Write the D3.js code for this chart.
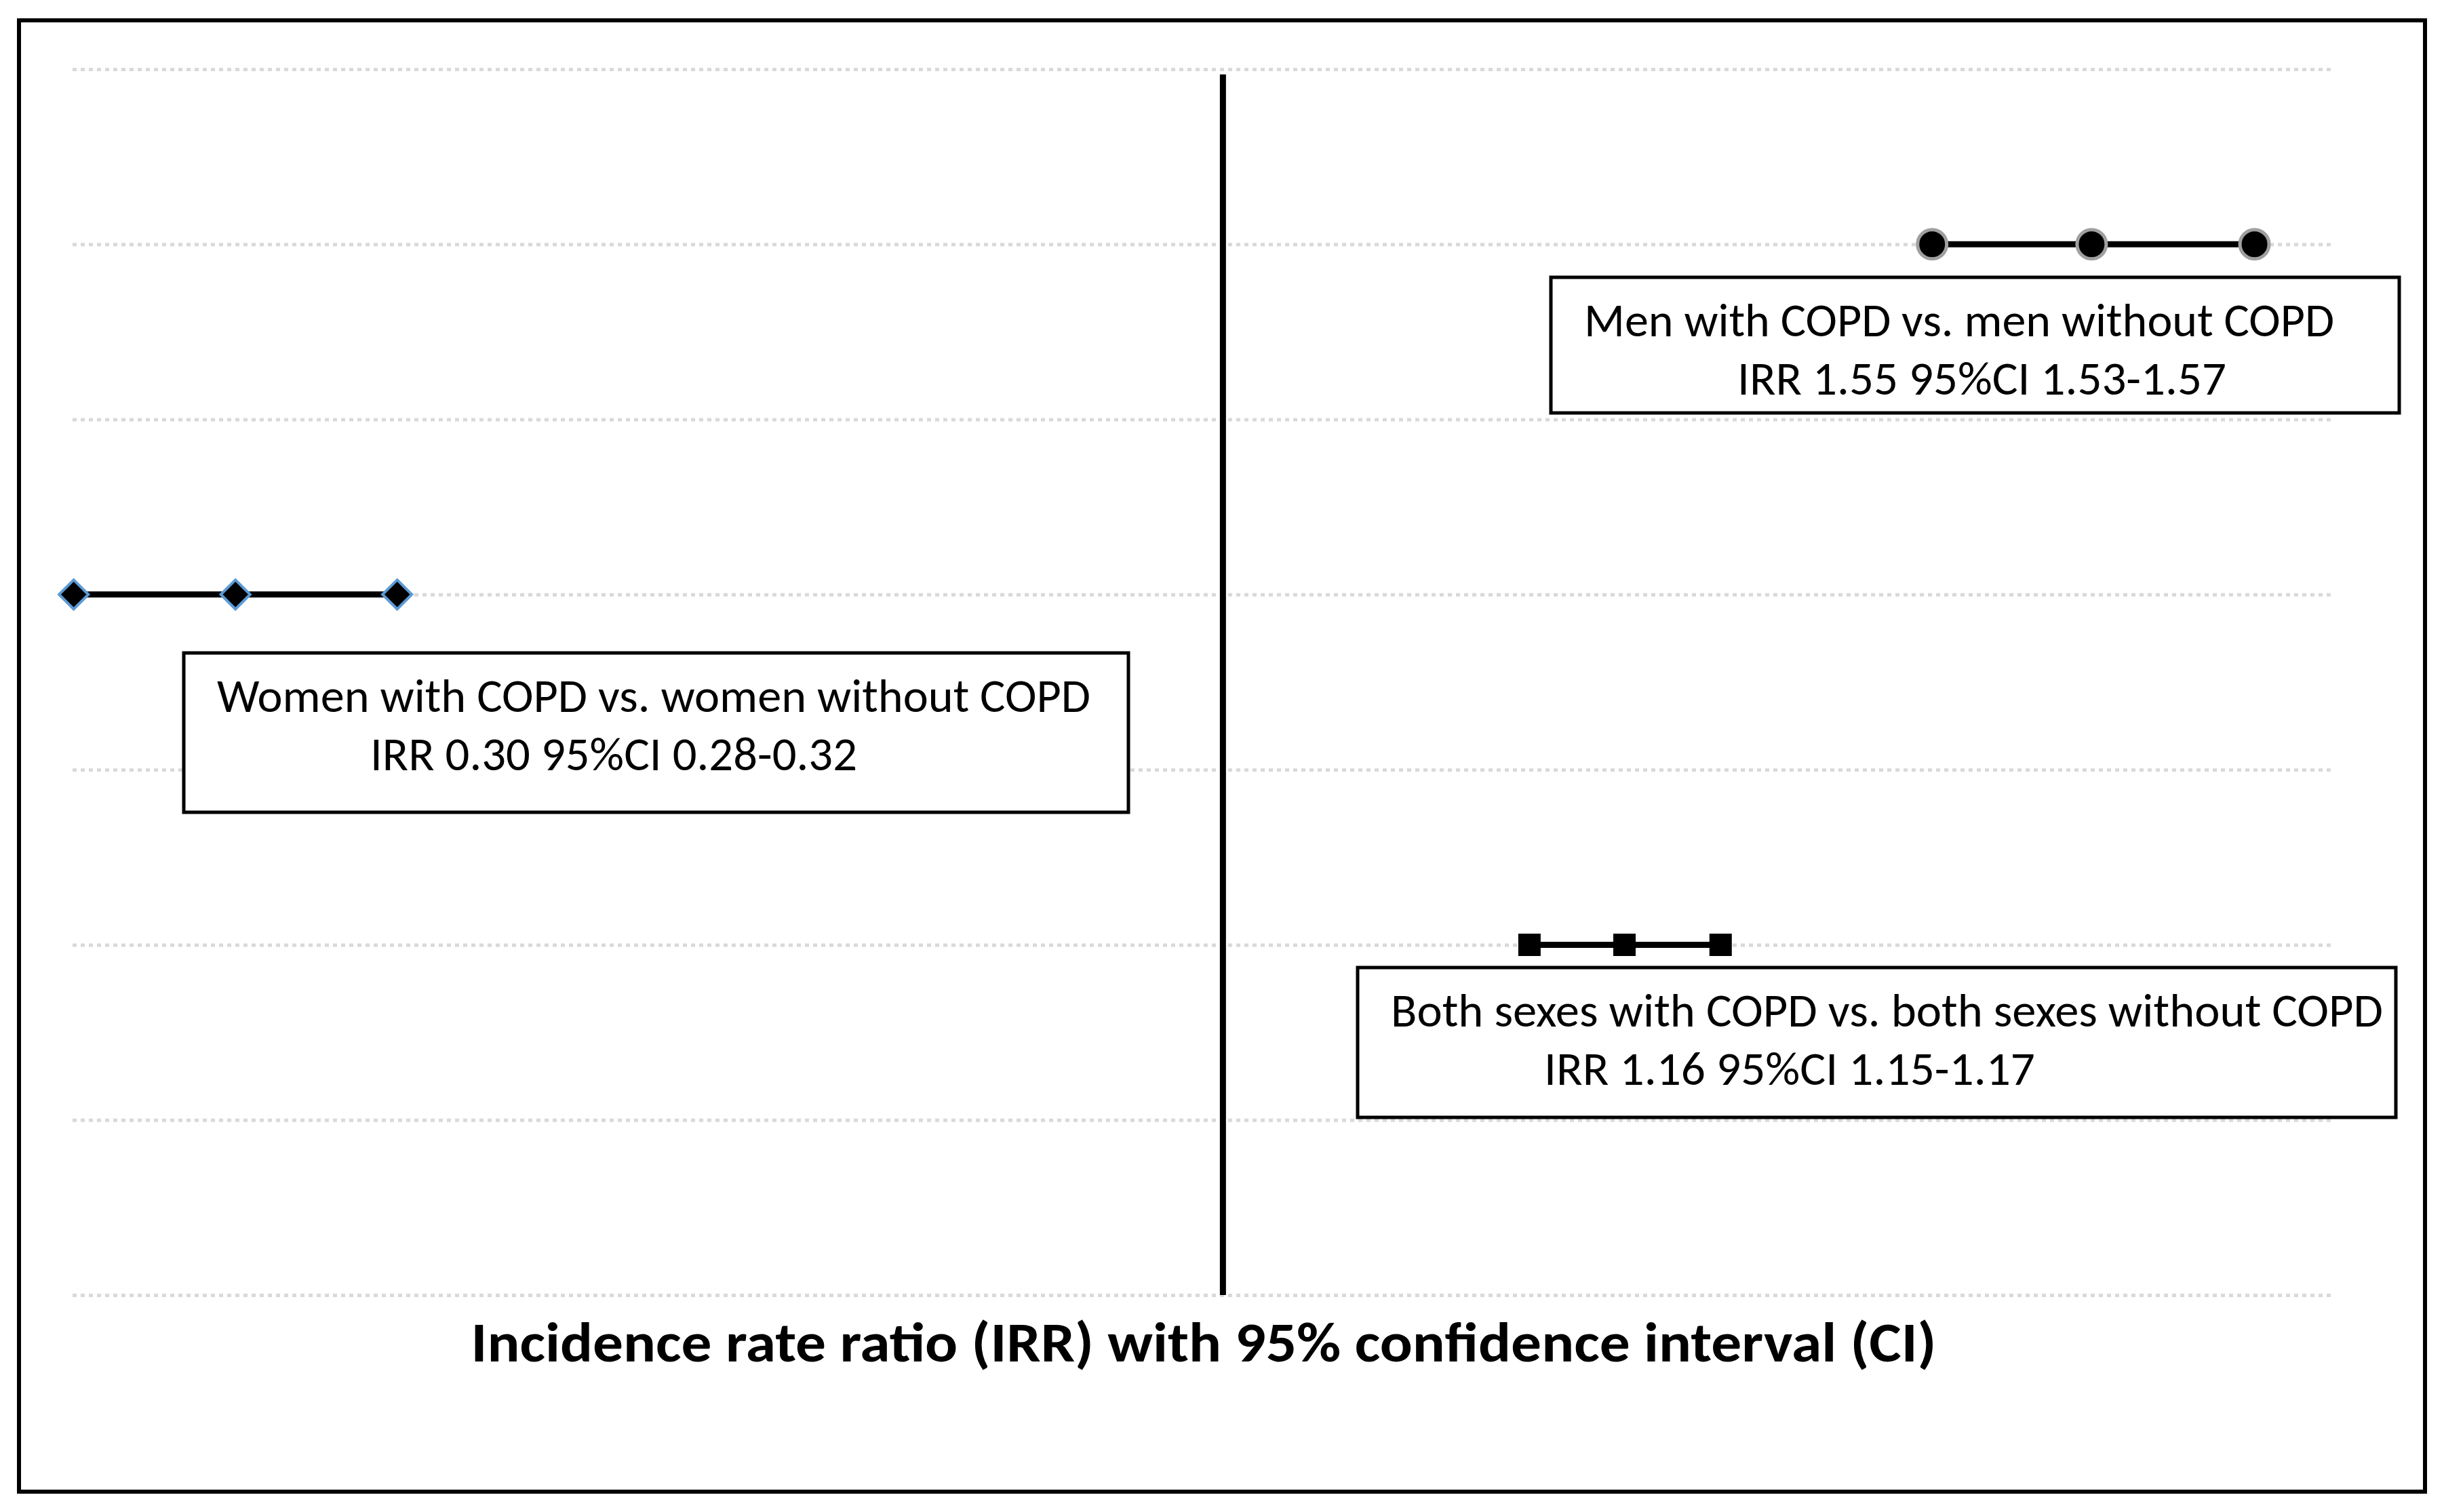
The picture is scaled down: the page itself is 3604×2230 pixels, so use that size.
<!DOCTYPE html>
<html>
<head>
<meta charset="utf-8">
<script src="https://cdn.jsdelivr.net/npm/d3@7"></script>
<style>
  body { margin: 0; background: #fff; }
  svg { display: block; }
  text { font-family: Carlito, Calibri, Lato, sans-serif; fill: #000; }
</style>
</head>
<body>
<script>
// groups, in the order they appear top to bottom
var groups = ["Men with COPD vs. men without COPD",
              "Women with COPD vs. women without COPD",
              "Both sexes with COPD vs. both sexes without COPD"];
var irr    = [1.55, 0.30, 1.16];
var ciLow  = [1.53, 0.28, 1.15];
var ciHigh = [1.57, 0.32, 1.17];

// where each row sits on the (unlabelled) chart axes
var rowY    = [6, 4, 2];
var posLow  = [1.644, 0.001, 1.288];
var posMid  = [1.785, 0.144, 1.372];
var posHigh = [1.929, 0.287, 1.457];
var refLineX = 1.017;
var yTicks = [0, 1, 2, 3, 4, 5, 6, 7];
var title = "Incidence rate ratio (IRR) with 95% confidence interval (CI)";

var width = 3604, height = 2230;

var x = d3.scaleLinear().domain([0, 2]).range([107, 3443]);
var y = d3.scaleLinear().domain([0, 7]).range([1910, 102]);

var svg = d3.select('body').append('svg')
            .attr('width', width)
            .attr('height', height);

// outer frame
svg.append('rect')
   .attr('x', 28).attr('y', 30)
   .attr('width', 3548).attr('height', 2170)
   .attr('fill', '#fff').attr('stroke', '#000').attr('stroke-width', 6);

// dotted horizontal gridlines
var yAxis = d3.axisLeft(y).tickValues(yTicks).tickSize(-(x.range()[1] - x.range()[0])).tickFormat('');
var grid = svg.append('g').attr('transform', 'translate(' + x.range()[0] + ',0)').call(yAxis);
grid.select('.domain').remove();
grid.selectAll('.tick line')
    .attr('stroke', '#d9d9d9')
    .attr('stroke-width', 5)
    .attr('stroke-dasharray', '6,6');

// reference line
svg.append('line')
   .attr('x1', x(refLineX)).attr('x2', x(refLineX))
   .attr('y1', y(0)).attr('y2', y(6.97))
   .attr('stroke', '#000').attr('stroke-width', 9);

var rows = groups.map(function(g, i) {
  return { name: g, irr: irr[i], lo: ciLow[i], hi: ciHigh[i],
           y: rowY[i], p: [posLow[i], posMid[i], posHigh[i]] };
});

// CI lines
svg.selectAll('.ci').data(rows).enter().append('line')
   .attr('class', 'ci')
   .attr('x1', function(d) { return x(d.p[0]); })
   .attr('x2', function(d) { return x(d.p[2]); })
   .attr('y1', function(d) { return y(d.y); })
   .attr('y2', function(d) { return y(d.y); })
   .attr('stroke', '#000').attr('stroke-width', 9);

// markers: circle for men, diamond (rotated square) for women, square for both
var markers = [
  { shape: d3.symbolCircle, size: Math.PI * 21.5 * 21.5, rot: 0,  stroke: '#a0a0a0', sw: 5 },
  { shape: d3.symbolSquare, size: 30.5 * 30.5,           rot: 45, stroke: '#5b9bd5', sw: 4 },
  { shape: d3.symbolSquare, size: 33 * 33,               rot: 0,  stroke: 'none',    sw: 0 }
];
rows.forEach(function(d, i) {
  var m = markers[i];
  svg.selectAll('.m' + i).data(d.p).enter().append('path')
     .attr('class', 'm' + i)
     .attr('transform', function(v) { return 'translate(' + x(v) + ',' + y(d.y) + ') rotate(' + m.rot + ')'; })
     .attr('d', d3.symbol().type(m.shape).size(m.size))
     .attr('fill', '#000')
     .attr('stroke', m.stroke)
     .attr('stroke-width', m.sw);
});

// annotation boxes
var boxes = [
  { x: 2287, y: 409,  w: 1251, h: 200, l1: 1106, l2: 721 },
  { x: 271,  y: 963,  w: 1393, h: 235, l1: 1288, l2: 718 },
  { x: 2002, y: 1427, w: 1531, h: 221, l1: 1463, l2: 724 }
];
rows.forEach(function(d, i) {
  var b = boxes[i];
  var g = svg.append('g');
  g.append('rect')
   .attr('x', b.x).attr('y', b.y).attr('width', b.w).attr('height', b.h)
   .attr('fill', '#fff').attr('stroke', '#000').attr('stroke-width', 5);
  g.append('text')
   .attr('x', b.x + 49).attr('y', b.y + 87)
   .attr('font-size', 70)
   .attr('textLength', b.l1).attr('lengthAdjust', 'spacingAndGlyphs')
   .text(d.name);
  g.append('text')
   .attr('x', b.x + 275).attr('y', b.y + 173)
   .attr('font-size', 70)
   .attr('textLength', b.l2).attr('lengthAdjust', 'spacingAndGlyphs')
   .text('IRR ' + d.irr.toFixed(2) + ' 95%CI ' + d.lo.toFixed(2) + '-' + d.hi.toFixed(2));
});

// axis title
svg.append('text')
   .attr('x', (x.range()[0] + x.range()[1]) / 2).attr('y', 2008)
   .attr('text-anchor', 'middle')
   .attr('font-size', 82).attr('font-weight', 'bold')
   .attr('textLength', 2161).attr('lengthAdjust', 'spacingAndGlyphs')
   .text(title);
</script>
</body>
</html>
